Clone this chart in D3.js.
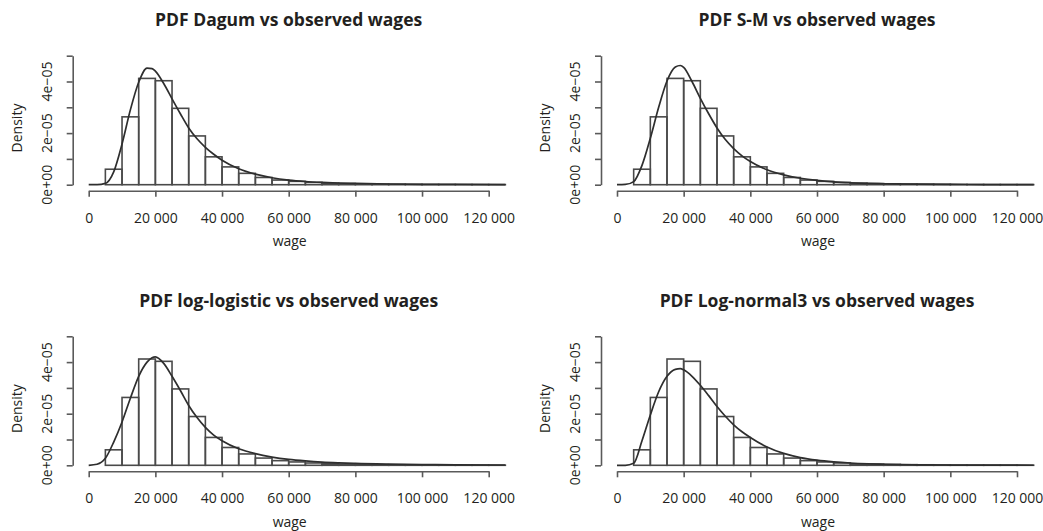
<!DOCTYPE html>
<html>
<head>
<meta charset="utf-8">
<script src="https://cdn.jsdelivr.net/npm/d3@7/dist/d3.min.js"></script>
<style>
  html, body { margin: 0; padding: 0; background: #fff; }
  svg { display: block; font-family: "Open Sans", "Noto Sans", sans-serif; }
</style>
</head>
<body>
<svg id="chart" width="1043" height="531"></svg>
<script>
// ---- Data ----
const binWidth = 5000;
const binStarts = d3.range(0, 125000, 5000);
// observed wage histogram densities (per bin of 5000)
const histDensity = [
  0, 0.60e-5, 2.63e-5, 4.12e-5, 4.03e-5, 2.96e-5, 1.89e-5, 1.08e-5, 0.69e-5, 0.44e-5,
  0.28e-5, 0.18e-5, 0.13e-5, 0.09e-5, 0.06e-5, 0.045e-5, 0.035e-5, 0.025e-5, 0.02e-5, 0.015e-5,
  0.01e-5, 0.008e-5, 0.006e-5, 0.005e-5, 0.004e-5
];

const curveWages = [0, 2500, 5000, 7500, 10000, 12500, 15000, 17500, 19000, 20000, 22500, 25000,
  27500, 30000, 32500, 35000, 37500, 40000, 45000, 50000, 55000, 60000, 65000, 70000, 75000,
  80000, 90000, 100000, 110000, 125000];

const dagumPdf = [0, 0.0, 0.05e-5, 0.50e-5, 1.58e-5, 2.90e-5, 3.97e-5, 4.52e-5, 4.50e-5, 4.40e-5, 3.92e-5, 3.33e-5,
  2.75e-5, 2.20e-5, 1.78e-5, 1.45e-5, 1.18e-5, 0.95e-5, 0.62e-5, 0.41e-5, 0.27e-5, 0.18e-5, 0.125e-5, 0.09e-5, 0.065e-5,
  0.048e-5, 0.027e-5, 0.016e-5, 0.010e-5, 0.006e-5];

const smPdf = [0, 0.01e-5, 0.12e-5, 0.75e-5, 1.80e-5, 3.00e-5, 4.02e-5, 4.56e-5, 4.62e-5, 4.55e-5, 4.00e-5, 3.35e-5,
  2.75e-5, 2.20e-5, 1.75e-5, 1.40e-5, 1.12e-5, 0.90e-5, 0.58e-5, 0.38e-5, 0.25e-5, 0.165e-5, 0.11e-5, 0.075e-5, 0.052e-5,
  0.037e-5, 0.020e-5, 0.011e-5, 0.006e-5, 0.003e-5];

const logLogisticPdf = [0, 0.04e-5, 0.27e-5, 0.90e-5, 1.68e-5, 2.60e-5, 3.45e-5, 4.00e-5, 4.17e-5, 4.20e-5, 3.95e-5, 3.45e-5,
  2.90e-5, 2.32e-5, 1.85e-5, 1.47e-5, 1.17e-5, 0.95e-5, 0.64e-5, 0.45e-5, 0.32e-5, 0.23e-5, 0.17e-5, 0.125e-5, 0.095e-5,
  0.072e-5, 0.045e-5, 0.029e-5, 0.020e-5, 0.012e-5];

const logNormal3Pdf = [0, 0, 0.08e-5, 0.95e-5, 1.95e-5, 2.85e-5, 3.45e-5, 3.72e-5, 3.75e-5, 3.70e-5, 3.45e-5, 3.10e-5,
  2.70e-5, 2.28e-5, 1.90e-5, 1.57e-5, 1.30e-5, 1.08e-5, 0.71e-5, 0.46e-5, 0.30e-5, 0.20e-5, 0.135e-5, 0.09e-5, 0.06e-5,
  0.04e-5, 0.02e-5, 0.01e-5, 0.005e-5, 0.002e-5];

const panelTitles = [
  "PDF Dagum vs observed wages",
  "PDF S-M vs observed wages",
  "PDF log-logistic vs observed wages",
  "PDF Log-normal3 vs observed wages"
];
const panelCurves = [dagumPdf, smPdf, logLogisticPdf, logNormal3Pdf];

const xTickValues = [0, 20000, 40000, 60000, 80000, 100000, 120000];
const xTickLabels = ["0", "20 000", "40 000", "60 000", "80 000", "100 000", "120 000"];
const yTickValues = [0, 1e-5, 2e-5, 3e-5, 4e-5, 5e-5];
const yTickLabels = ["0e+00", "", "2e\u221205", "", "4e\u221205", ""];
const xLabel = "wage";
const yLabel = "Density";

// ---- Layout ----
const panelOrigins = [
  { ox: 88.7, oy: 184.7 },
  { ox: 617.0, oy: 184.7 },
  { ox: 88.7, oy: 465.3 },
  { ox: 617.0, oy: 465.3 }
];

const svg = d3.select("#chart");
svg.append("rect").attr("width", 1043).attr("height", 531).attr("fill", "#fff");

const textColor = "#231f20";
const axisColor = "#5a5a5a";
const barColor = "#4a4a4a";
const lineColor = "#2e2e2e";

panelOrigins.forEach((o, i) => {
  const x = d3.scaleLinear().domain([0, 120000]).range([o.ox, o.ox + 400]);
  const y = d3.scaleLinear().domain([0, 5e-5]).range([o.oy, o.oy - 129]);
  const g = svg.append("g");

  // histogram bars
  g.selectAll("rect.bar")
    .data(binStarts.map((s, k) => ({ s, d: histDensity[k] })))
    .join("rect")
    .attr("class", "bar")
    .attr("x", d => x(d.s))
    .attr("y", d => y(d.d))
    .attr("width", d => x(d.s + binWidth) - x(d.s))
    .attr("height", d => y(0) - y(d.d))
    .attr("fill", "none")
    .attr("stroke", barColor)
    .attr("stroke-width", 1.6);

  // fitted pdf
  const line = d3.line()
    .x((w) => x(w))
    .y((w, k) => y(panelCurves[i][k]))
    .curve(d3.curveMonotoneX);
  g.append("path")
    .attr("d", line(curveWages))
    .attr("fill", "none")
    .attr("stroke", lineColor)
    .attr("stroke-width", 1.7);

  // x axis
  const xAxis = d3.axisBottom(x)
    .tickValues(xTickValues)
    .tickFormat((d, k) => xTickLabels[k])
    .tickSize(6)
    .tickSizeOuter(0)
    .tickPadding(16);
  const gx = g.append("g")
    .attr("transform", `translate(0,${o.oy + 6})`)
    .call(xAxis);
  gx.select(".domain").attr("stroke", axisColor).attr("stroke-width", 1.6);
  gx.selectAll(".tick line").attr("stroke", axisColor).attr("stroke-width", 1.6);
  gx.selectAll(".tick text")
    .attr("fill", textColor)
    .style("font-size", "14px")
    .style("font-family", "'Open Sans', sans-serif");

  // y axis
  const yAxis = d3.axisLeft(y)
    .tickValues(yTickValues)
    .tickFormat(() => "")
    .tickSize(6)
    .tickSizeOuter(0);
  const gy = g.append("g")
    .attr("transform", `translate(${o.ox - 16},0)`)
    .call(yAxis);
  gy.select(".domain").attr("stroke", axisColor).attr("stroke-width", 1.6);
  gy.selectAll(".tick line").attr("stroke", axisColor).attr("stroke-width", 1.6);

  g.selectAll("text.ytick")
    .data(yTickValues.map((v, k) => ({ v, t: yTickLabels[k] })).filter(d => d.t))
    .join("text")
    .attr("class", "ytick")
    .attr("transform", d => `translate(${o.ox - 36.7},${y(d.v)}) rotate(-90)`)
    .attr("text-anchor", "middle")
    .attr("fill", textColor)
    .style("font-size", "14px")
    .text(d => d.t);

  // axis titles
  g.append("text")
    .attr("transform", `translate(${o.ox - 66.7},${o.oy - 56.7}) rotate(-90)`)
    .attr("text-anchor", "middle")
    .attr("fill", textColor)
    .style("font-size", "14px")
    .text(yLabel);

  g.append("text")
    .attr("x", o.ox + 201)
    .attr("y", o.oy + 61.3)
    .attr("text-anchor", "middle")
    .attr("fill", textColor)
    .style("font-size", "14px")
    .text(xLabel);

  // panel title
  g.append("text")
    .attr("x", o.ox + 200)
    .attr("y", o.oy - 158.5)
    .attr("text-anchor", "middle")
    .attr("fill", textColor)
    .style("font-size", "17.5px")
    .style("font-weight", "bold")
    .text(panelTitles[i]);
});
</script>
</body>
</html>
